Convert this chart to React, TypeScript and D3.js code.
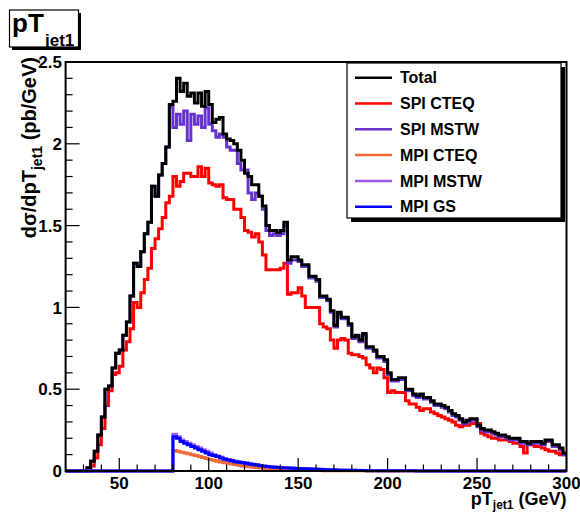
import React from "react";
import * as d3 from "d3";

// Histogram binning: 2 GeV bins from 20 to 300 GeV
const BIN_START = 20;
const BIN_WIDTH = 2;

const total = [
  0, 0, 0, 0, 0, 0, 0.02, 0.06, 0.12, 0.22,
  0.33, 0.50, 0.52, 0.63, 0.72, 0.74, 0.83, 0.91, 1.07, 1.27,
  1.25, 1.34, 1.45, 1.52, 1.74, 1.68, 1.81, 1.88, 1.98, 2.24,
  2.26, 2.40, 2.32, 2.37, 2.29, 2.31, 2.25, 2.31, 2.23, 2.32,
  2.24, 2.13, 2.15, 2.16, 2.06, 2.03, 2.02, 2.00, 1.96, 1.90,
  1.82, 1.80, 1.75, 1.75, 1.68, 1.62, 1.50, 1.47, 1.47, 1.46,
  1.47, 1.52, 1.29, 1.31, 1.31, 1.29, 1.26, 1.26, 1.19, 1.19,
  1.17, 1.07, 1.07, 1.05, 0.98, 0.89, 0.97, 0.94, 0.94, 0.90,
  0.82, 0.83, 0.80, 0.84, 0.76, 0.76, 0.74, 0.70, 0.70, 0.68,
  0.60, 0.56, 0.56, 0.57, 0.57, 0.50, 0.50, 0.47, 0.46, 0.47,
  0.45, 0.45, 0.43, 0.41, 0.41, 0.40, 0.39, 0.37, 0.35, 0.34,
  0.32, 0.30, 0.31, 0.32, 0.32, 0.28, 0.26, 0.25, 0.25, 0.24,
  0.23, 0.22, 0.22, 0.21, 0.20, 0.20, 0.20, 0.18, 0.18, 0.17,
  0.18, 0.18, 0.18, 0.17, 0.19, 0.19, 0.16, 0.16, 0.14, 0.11,
];

const spiCteq = [
  0, 0, 0, 0, 0, 0, 0, 0.03, 0.08, 0.16,
  0.26, 0.40, 0.49, 0.59, 0.60, 0.64, 0.74, 0.79, 0.87, 1.03,
  1.00, 1.09, 1.17, 1.24, 1.36, 1.42, 1.48, 1.55, 1.64, 1.68,
  1.80, 1.74, 1.77, 1.82, 1.82, 1.80, 1.80, 1.86, 1.80, 1.85,
  1.76, 1.75, 1.74, 1.75, 1.67, 1.66, 1.66, 1.60, 1.60, 1.55,
  1.47, 1.46, 1.43, 1.45, 1.40, 1.32, 1.23, 1.23, 1.23, 1.23,
  1.24, 1.27, 1.08, 1.09, 1.09, 1.12, 1.07, 1.00, 1.00, 1.00,
  1.00, 0.90, 0.88, 0.87, 0.80, 0.75, 0.80, 0.81, 0.80, 0.72,
  0.71, 0.71, 0.70, 0.69, 0.65, 0.63, 0.60, 0.63, 0.62, 0.57,
  0.48, 0.49, 0.48, 0.48, 0.48, 0.43, 0.41, 0.41, 0.39, 0.37,
  0.38, 0.38, 0.36, 0.35, 0.34, 0.33, 0.32, 0.31, 0.30, 0.28,
  0.27, 0.28, 0.28, 0.29, 0.29, 0.29, 0.23, 0.22, 0.21, 0.20,
  0.20, 0.19, 0.19, 0.19, 0.18, 0.17, 0.17, 0.15, 0.11, 0.17,
  0.16, 0.15, 0.15, 0.14, 0.13, 0.12, 0.12, 0.11, 0.10, 0.10,
];

const spiMstw = [
  0, 0, 0, 0, 0, 0, 0.02, 0.06, 0.12, 0.22,
  0.33, 0.50, 0.52, 0.63, 0.72, 0.74, 0.83, 0.91, 1.07, 1.27,
  1.25, 1.34, 1.45, 1.52, 1.74, 1.68, 1.81, 1.88, 1.98, 2.23,
  2.10, 2.18, 2.12, 2.20, 2.02, 2.18, 2.12, 2.17, 2.10, 2.22,
  2.12, 2.08, 2.04, 2.06, 2.04, 1.98, 1.96, 1.96, 1.88, 1.84,
  1.84, 1.70, 1.66, 1.70, 1.68, 1.60, 1.47, 1.44, 1.45, 1.44,
  1.45, 1.50, 1.27, 1.29, 1.29, 1.28, 1.25, 1.25, 1.18, 1.18,
  1.16, 1.06, 1.06, 1.04, 0.97, 0.88, 0.96, 0.93, 0.93, 0.89,
  0.81, 0.82, 0.79, 0.83, 0.75, 0.75, 0.73, 0.69, 0.69, 0.67,
  0.59, 0.55, 0.55, 0.56, 0.56, 0.49, 0.49, 0.46, 0.45, 0.46,
  0.44, 0.44, 0.42, 0.40, 0.40, 0.39, 0.38, 0.36, 0.34, 0.33,
  0.31, 0.29, 0.30, 0.31, 0.31, 0.27, 0.25, 0.24, 0.24, 0.23,
  0.22, 0.21, 0.21, 0.20, 0.19, 0.19, 0.19, 0.17, 0.17, 0.16,
  0.17, 0.17, 0.17, 0.16, 0.18, 0.18, 0.15, 0.15, 0.13, 0.10,
];

const mpiCteq = [
  0, 0, 0, 0, 0, 0, 0, 0, 0, 0,
  0, 0, 0, 0, 0, 0, 0, 0, 0, 0,
  0, 0, 0, 0, 0, 0, 0, 0, 0, 0,
  0.125, 0.12, 0.115, 0.11, 0.105, 0.10, 0.095, 0.088, 0.083, 0.077,
  0.070, 0.065, 0.060, 0.055, 0.050, 0.047, 0.043, 0.039, 0.035, 0.031,
  0.028, 0.026, 0.023, 0.021, 0.019, 0.017, 0.015, 0.014, 0.012, 0.011,
  0.010, 0.009, 0.008, 0.007, 0.006, 0.005, 0.005, 0.004, 0.004, 0.003,
  0.003, 0.003, 0.002, 0.002, 0.002, 0.002, 0.001, 0.001, 0.001, 0.001,
  0.001, 0.001, 0.001, 0.001, 0, 0, 0, 0, 0, 0,
  0, 0, 0, 0, 0, 0, 0, 0, 0, 0,
  0, 0, 0, 0, 0, 0, 0, 0, 0, 0,
  0, 0, 0, 0, 0, 0, 0, 0, 0, 0,
  0, 0, 0, 0, 0, 0, 0, 0, 0, 0,
  0, 0, 0, 0, 0, 0, 0, 0, 0, 0,
];

const mpiMstw = [
  0, 0, 0, 0, 0, 0, 0, 0, 0, 0,
  0, 0, 0, 0, 0, 0, 0, 0, 0, 0,
  0, 0, 0, 0, 0, 0, 0, 0, 0, 0,
  0.225, 0.21, 0.19, 0.18, 0.17, 0.16, 0.15, 0.14, 0.13, 0.12,
  0.11, 0.10, 0.092, 0.085, 0.077, 0.071, 0.066, 0.060, 0.056, 0.052,
  0.049, 0.045, 0.042, 0.038, 0.034, 0.031, 0.028, 0.026, 0.024, 0.022,
  0.021, 0.020, 0.019, 0.018, 0.017, 0.016, 0.015, 0.014, 0.013, 0.012,
  0.011, 0.010, 0.009, 0.008, 0.008, 0.007, 0.006, 0.006, 0.005, 0.005,
  0.004, 0.004, 0.004, 0.003, 0.003, 0.003, 0.003, 0.002, 0.002, 0.002,
  0.002, 0.002, 0.002, 0.001, 0.001, 0.001, 0.001, 0.001, 0.001, 0.001,
  0.001, 0.001, 0.001, 0.001, 0.001, 0, 0, 0, 0, 0,
  0, 0, 0, 0, 0, 0, 0, 0, 0, 0,
  0, 0, 0, 0, 0, 0, 0, 0, 0, 0,
  0, 0, 0, 0, 0, 0, 0, 0, 0, 0,
];

const mpiGs = [
  0, 0, 0, 0, 0, 0, 0, 0, 0, 0,
  0, 0, 0, 0, 0, 0, 0, 0, 0, 0,
  0, 0, 0, 0, 0, 0, 0, 0, 0, 0,
  0.21, 0.20, 0.18, 0.17, 0.16, 0.15, 0.14, 0.13, 0.12, 0.11,
  0.10, 0.095, 0.088, 0.080, 0.072, 0.067, 0.062, 0.057, 0.053, 0.050,
  0.047, 0.043, 0.040, 0.036, 0.032, 0.029, 0.027, 0.025, 0.023, 0.021,
  0.020, 0.019, 0.018, 0.017, 0.016, 0.015, 0.014, 0.013, 0.012, 0.011,
  0.010, 0.009, 0.008, 0.007, 0.007, 0.006, 0.005, 0.005, 0.004, 0.004,
  0.004, 0.003, 0.003, 0.003, 0.002, 0.002, 0.002, 0.002, 0.002, 0.001,
  0.001, 0.001, 0.001, 0.001, 0.001, 0.001, 0.001, 0.001, 0, 0,
  0, 0, 0, 0, 0, 0, 0, 0, 0, 0,
  0, 0, 0, 0, 0, 0, 0, 0, 0, 0,
  0, 0, 0, 0, 0, 0, 0, 0, 0, 0,
  0, 0, 0, 0, 0, 0, 0, 0, 0, 0,
];

const seriesNames = ["Total", "SPI CTEQ", "SPI MSTW", "MPI CTEQ", "MPI MSTW", "MPI GS"];
const seriesColors = ["#000000", "#ff0000", "#6633cc", "#f26a3a", "#9c5cf5", "#0000ff"];
const seriesValues = [total, spiCteq, spiMstw, mpiCteq, mpiMstw, mpiGs];
// drawing order (bottom to top)
const drawOrder = [1, 2, 0, 3, 4, 5];

const xTicksMajor = [50, 100, 150, 200, 250, 300];
const yTicksMajor = [0, 0.5, 1, 1.5, 2, 2.5];

const FONT = "'Liberation Sans', Arial, Helvetica, sans-serif";

export default function App() {
  const W = 580, H = 513;
  const L = 65.6, R = 566.5, T = 62, B = 471;
  const x = d3.scaleLinear().domain([20, 300]).range([L, R]);
  const y = d3.scaleLinear().domain([0, 2.5]).range([B, T]);

  const line = d3.line<[number, number]>().x((d) => x(d[0])).y((d) => y(d[1]));
  const histPath = (vals: number[]) => {
    const pts: [number, number][] = [];
    vals.forEach((v, i) => {
      const lo = BIN_START + i * BIN_WIDTH;
      pts.push([lo, v], [lo + BIN_WIDTH, v]);
    });
    return line(pts) || "";
  };

  const xMinor = d3.range(20, 301, 10).filter((t) => t % 50 !== 0);
  const yMinor = d3.range(0, 2.5001, 0.1).filter((t) => Math.abs(t * 2 - Math.round(t * 2)) > 1e-6);

  const legX = 347, legY = 63, legW = 214, legH = 155;
  const rowY = (i: number) => 77.7 + i * 25.8;

  return (
    <svg width={W} height={H} style={{ position: "absolute", left: 0, top: 0, background: "#fff" }} fontFamily={FONT}>
      <rect x={0} y={0} width={W} height={H} fill="#fff" />

      {/* histograms */}
      <g fill="none" strokeWidth={3} strokeLinejoin="miter">
        {drawOrder.map((k) => (
          <path key={k} d={histPath(seriesValues[k])} stroke={seriesColors[k]} />
        ))}
      </g>

      {/* frame */}
      <rect x={L} y={T} width={R - L} height={B - T} fill="none" stroke="#000" strokeWidth={2} />

      {/* y ticks */}
      {yTicksMajor.map((t) => (
        <g key={"ym" + t}>
          <line x1={L} x2={L + 14} y1={y(t)} y2={y(t)} stroke="#000" strokeWidth={1.2} />
          <text x={62} y={y(t)} dy="0.36em" textAnchor="end" fontSize={17} fontWeight="bold">
            {t}
          </text>
        </g>
      ))}
      {yMinor.map((t) => (
        <line key={"yn" + t} x1={L} x2={L + 7} y1={y(t)} y2={y(t)} stroke="#000" strokeWidth={1.2} />
      ))}

      {/* x ticks */}
      {xTicksMajor.map((t) => (
        <g key={"xm" + t}>
          <line x1={x(t)} x2={x(t)} y1={B} y2={B - 13} stroke="#000" strokeWidth={1.2} />
          <text x={x(t)} y={489} textAnchor="middle" fontSize={17} fontWeight="bold">
            {t}
          </text>
        </g>
      ))}
      {xMinor.map((t) => (
        <line key={"xn" + t} x1={x(t)} x2={x(t)} y1={B} y2={B - 6.5} stroke="#000" strokeWidth={1.2} />
      ))}

      {/* axis titles */}
      <text x={R} y={505} textAnchor="end" fontSize={18} fontWeight="bold">
        pT
        <tspan fontSize={12} dy={4}>jet1</tspan>
        <tspan dy={-4}> (GeV)</tspan>
      </text>
      <text transform={`translate(36,57) rotate(-90)`} textAnchor="end" fontSize={20} fontWeight="bold">
        dσ/dpT
        <tspan fontSize={14} dy={6}>jet1</tspan>
        <tspan dy={-6}> (pb/GeV)</tspan>
      </text>

      {/* title box */}
      <rect x={12} y={13} width={69} height={37} fill="#000" />
      <rect x={9.5} y={10} width={69} height={37} fill="#fff" stroke="#000" strokeWidth={1.2} />
      <text x={12} y={31.5} fontSize={26} fontWeight="bold">pT</text>
      <text x={45} y={46} fontSize={17} fontWeight="bold">jet1</text>

      {/* legend */}
      <rect x={legX + 4} y={legY + 4} width={legW} height={legH} fill="#000" />
      <rect x={legX} y={legY} width={legW} height={legH} fill="#fff" stroke="#000" strokeWidth={1.2} />
      {seriesNames.map((name, i) => (
        <g key={name}>
          <line x1={355} x2={392} y1={rowY(i)} y2={rowY(i)} stroke={seriesColors[i]} strokeWidth={2.5} />
          <text x={400} y={rowY(i)} dy="0.36em" fontSize={16} fontWeight="bold">
            {name}
          </text>
        </g>
      ))}
    </svg>
  );
}
